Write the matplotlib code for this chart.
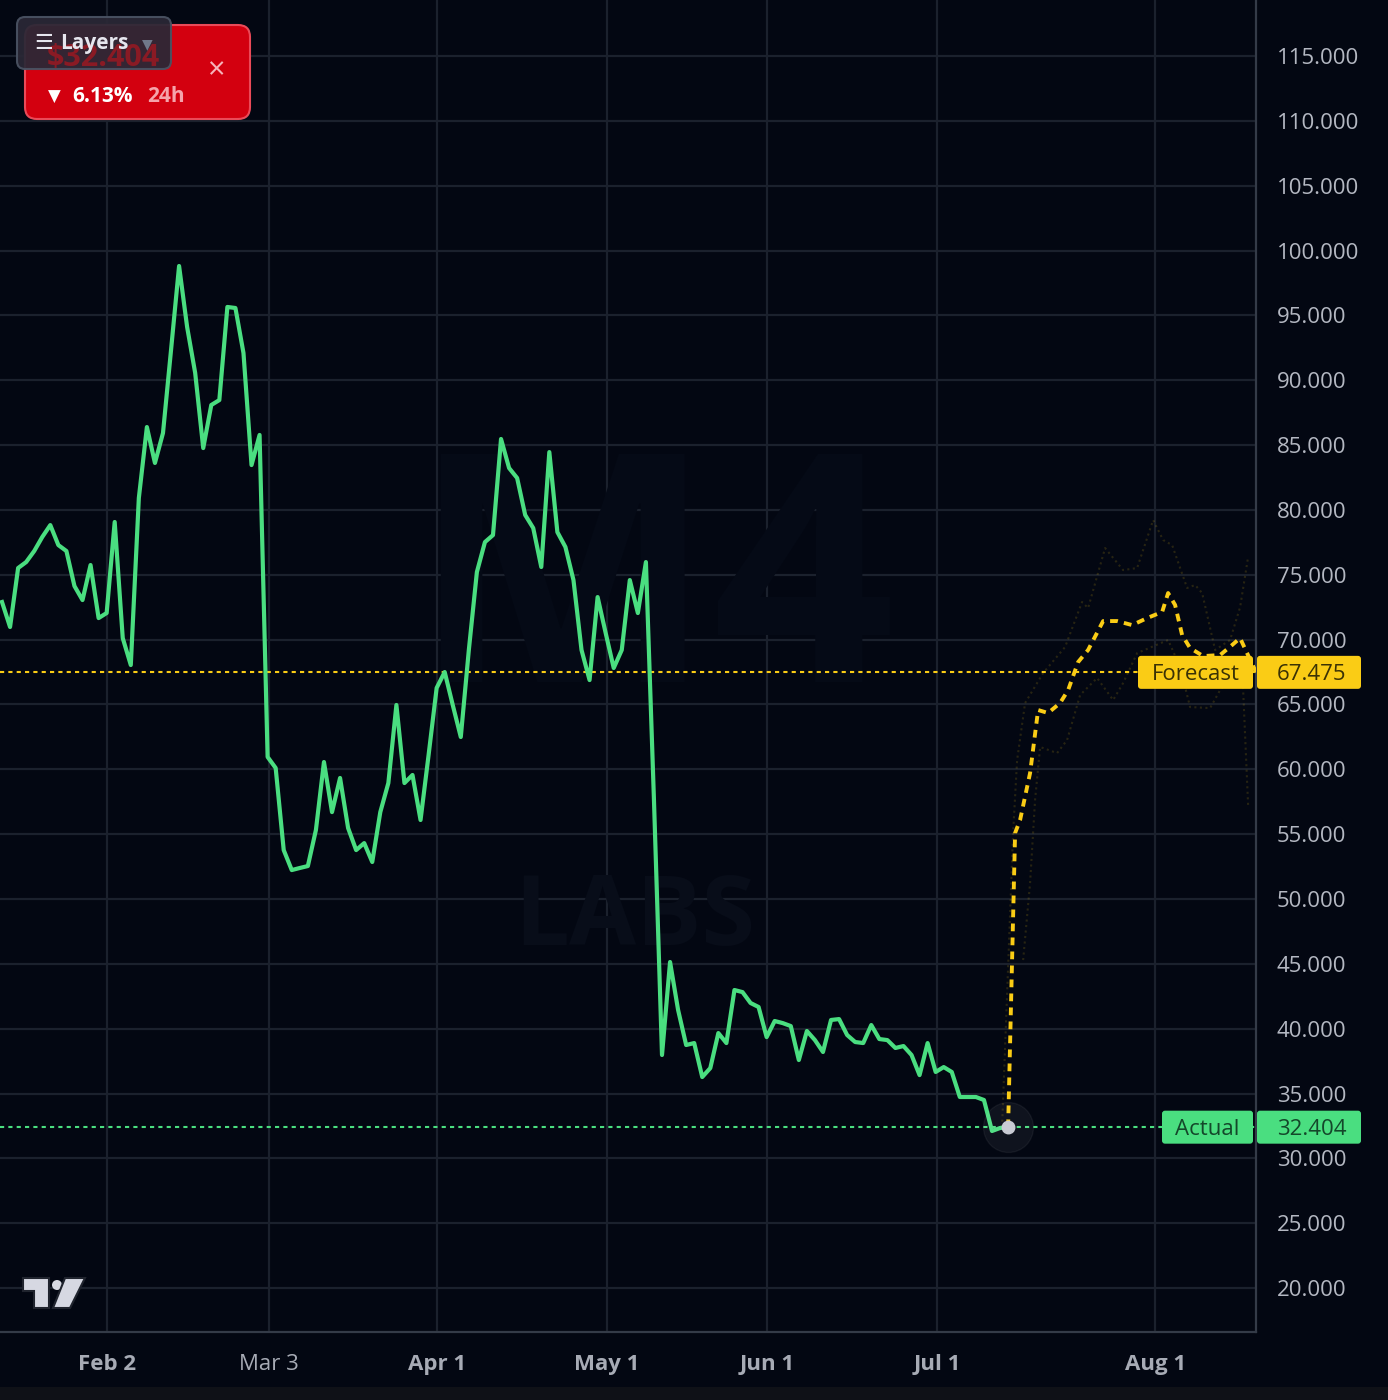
import numpy as np
import matplotlib.pyplot as plt
from matplotlib.patches import FancyBboxPatch, Circle, Polygon, Rectangle
from matplotlib.transforms import blended_transform_factory

plt.rcParams['font.family'] = ['Open Sans', 'DejaVu Sans']

# actual price, one value per bar
actual = [72.90, 70.97, 75.52, 75.98, 76.83, 77.91, 78.83, 77.29, 76.83, 74.13,
          73.05, 75.75, 71.66, 72.05, 79.07, 70.12, 68.04, 80.92, 86.39, 83.62,
          85.93, 92.33, 98.81, 94.10, 90.56, 84.77, 88.09, 88.47, 95.65, 95.57,
          92.10, 83.46, 85.78, 60.95, 60.10, 53.77, 52.23, 52.39, 52.54, 55.32,
          60.56, 56.70, 59.33, 55.47, 53.77, 54.31, 52.85, 56.70, 58.94, 64.96,
          58.94, 59.56, 56.09, 61.10, 66.27, 67.50, 64.96, 62.49, 69.20, 75.21,
          77.52, 78.06, 85.47, 83.23, 82.46, 79.61, 78.60, 75.60, 84.46, 78.29,
          77.14, 74.59, 69.20, 66.88, 73.28, 70.51, 67.81, 69.20, 74.59, 72.05,
          75.98, 57.63, 37.97, 45.14, 41.44, 38.74, 38.89, 36.27, 36.96, 39.66,
          38.89, 42.98, 42.82, 41.98, 41.67, 39.35, 40.59, 40.43, 40.20, 37.58,
          39.82, 39.12, 38.20, 40.67, 40.74, 39.51, 38.97, 38.89, 40.28, 39.20,
          39.12, 38.51, 38.66, 37.97, 36.42, 38.89, 36.66, 37.04, 36.66, 34.73,
          34.73, 34.73, 34.50, 32.11, 32.34, 32.404]
actual_last = 32.404
forecast_last = 67.475

# forecast (bar positions continue after the last actual bar)
forecast_x = [125.0, 125.87, 126.49, 127.73, 128.73, 129.97, 131.46, 132.46, 133.70,
              134.94, 136.81, 138.55, 140.41, 142.27, 144.14, 144.88, 145.75, 146.62,
              147.61, 149.23, 151.34, 152.83, 153.82, 154.69, 155.81]
forecast_y = [32.40, 55.09, 56.09, 59.71, 64.57, 64.34, 65.11, 66.11, 68.27,
              69.20, 71.43, 71.43, 71.12, 71.66, 72.13, 73.59, 72.67, 70.35,
              69.35, 68.73, 68.81, 69.58, 70.12, 68.96, 67.475]

upper_x = [124.25, 124.88, 125.62, 126.12, 127.11, 129.35, 132.08, 134.19, 134.94,
           137.05, 139.29, 141.03, 143.02, 144.26, 145.38, 147.24, 148.24, 149.11,
           150.72, 152.58, 153.83, 154.82]
upper_y = [32.40, 42.75, 55.09, 60.71, 65.11, 67.42, 69.43, 72.90, 72.43,
           77.06, 75.36, 75.52, 79.22, 77.68, 77.29, 73.98, 74.21, 73.59,
           69.20, 69.97, 72.51, 76.37]
lower_x = [126.87, 127.73, 128.35, 128.98, 131.09, 132.33, 133.95, 136.06, 138.05,
           139.29, 141.03, 144.88, 146.37, 147.61, 150.10, 151.34, 154.08, 154.82]
lower_y = [45.29, 51.23, 57.63, 61.72, 61.25, 62.26, 65.73, 67.04, 65.34,
           66.65, 68.96, 69.97, 67.89, 64.80, 64.72, 66.11, 67.89, 57.24]

tick_pos = [13.05, 33.18, 54.05, 75.17, 95.05, 116.18, 143.27]
tick_labels = ['Feb 2', 'Mar 3', 'Apr 1', 'May 1', 'Jun 1', 'Jul 1', 'Aug 1']
tick_weights = ['bold', 'normal', 'bold', 'bold', 'bold', 'bold', 'bold']
y_ticks = np.arange(20, 116, 5)

BG = '#030712'
GRID = '#1b212d'
GREEN = '#4ade80'
YELLOW = '#facc15'
LABEL = '#b4b8c2'

fig = plt.figure(figsize=(13.88, 14), dpi=100, facecolor=BG)
ax = fig.add_axes([0, 68 / 1400, 1256 / 1388, 1332 / 1400])
ax.set_facecolor(BG)
ax.set_xlim(-0.25, 155.8)
ax.set_ylim(16.61, 119.32)

ax.set_xticks(tick_pos)
ax.set_xticklabels(tick_labels)
for lab, w in zip(ax.get_xticklabels(), tick_weights):
    lab.set_fontweight(w)
    if w == 'normal':
        lab.set_color('#8d919b')
ax.set_yticks(y_ticks)
ax.set_yticklabels([f'{v:.3f}' for v in y_ticks])
ax.yaxis.tick_right()
ax.tick_params(axis='y', length=0, pad=15, labelsize=16, labelcolor=LABEL)
ax.tick_params(axis='x', length=0, pad=16, labelsize=16, labelcolor='#a7abb5')
ax.grid(True, color=GRID, lw=1.6)
ax.set_axisbelow(True)
for s in ['top', 'left']:
    ax.spines[s].set_visible(False)
for s in ['right', 'bottom']:
    ax.spines[s].set_color('#343b48')
    ax.spines[s].set_linewidth(1.6)

# faint watermark
ax.text(0.505, 0.31, 'LABS', transform=ax.transAxes, ha='center', va='center',
        fontsize=70, color='#080d19', fontweight='bold', zorder=1)
ax.text(0.52, 0.55, 'M4', transform=ax.transAxes, ha='center', va='center',
        fontsize=230, color='#050a16', fontweight='bold', zorder=1)

# price reference lines
ax.axhline(forecast_last, color=YELLOW, lw=1.5, ls=(0, (2, 2)), zorder=2)
ax.axhline(actual_last, color=GREEN, lw=1.5, ls=(0, (2, 2)), zorder=2)

# forecast band
ax.plot(upper_x, upper_y, color=YELLOW, alpha=0.15, lw=1.5, ls=':', zorder=3)
ax.plot(lower_x, lower_y, color=YELLOW, alpha=0.15, lw=1.5, ls=':', zorder=3)

ax.plot(np.arange(len(actual)), actual, color=GREEN, lw=3.0, zorder=4,
        solid_joinstyle='round')
ax.plot(forecast_x, forecast_y, color=YELLOW, lw=2.8, ls=(0, (2, 1.6)), zorder=5)

ax.plot(len(actual) - 1, actual_last, 'o', ms=36, color='white', alpha=0.05, zorder=5)
ax.plot(len(actual) - 1, actual_last, 'o', ms=9, color='#c9cbd4', zorder=6)

# price tags on the right
trans = blended_transform_factory(ax.transAxes, ax.transData)
px_x = 1 / 1256
px_y = (119.32 - 16.61) / 1332
tag_h = 33 * px_y


def price_tag(value, name, left_px, fc, tc):
    name_box = FancyBboxPatch((left_px * px_x, value - tag_h / 2),
                              (1253 - left_px) * px_x, tag_h,
                              boxstyle='round,pad=0,rounding_size=%f' % (3 * px_x),
                              mutation_aspect=px_y / px_x, fc=fc, ec='none',
                              transform=trans, clip_on=False, zorder=8)
    ax.add_patch(name_box)
    val_box = FancyBboxPatch((1257 * px_x, value - tag_h / 2), 104 * px_x, tag_h,
                             boxstyle='round,pad=0,rounding_size=%f' % (3 * px_x),
                             mutation_aspect=px_y / px_x, fc=fc, ec='none',
                             transform=trans, clip_on=False, zorder=8)
    ax.add_patch(val_box)
    ax.text((left_px + 1253) / 2 * px_x, value - 0.2, name, transform=trans, ha='center',
            va='center', fontsize=16, color=tc, zorder=9, clip_on=False)
    ax.text(1277 * px_x, value - 0.2, f'{value:.3f}', transform=trans, ha='left',
            va='center', fontsize=16, color=tc, zorder=9, clip_on=False)


price_tag(forecast_last, 'Forecast', 1138, YELLOW, '#3a3205')
price_tag(actual_last, 'Actual', 1162, GREEN, '#14472a')

# overlay in pixel units for the chart widgets
ov = fig.add_axes([0, 0, 1, 1], zorder=10)
ov.set_xlim(0, 1388)
ov.set_ylim(1400, 0)
ov.axis('off')
ov.patch.set_alpha(0)

ov.add_patch(Rectangle((0, 1387), 1388, 13, fc='#0f1117', ec='none'))

# 24h badge
ov.add_patch(FancyBboxPatch((25, 25), 225, 94, boxstyle='round,pad=0,rounding_size=12',
                            fc='#d3000f', ec='#ea4a58', lw=1.5))
ov.text(47, 58, '$32.404', fontsize=22, color='#8a1a24', va='center', ha='left',
        fontweight='bold')
ov.text(48, 97, '\u25bc', fontsize=12, color='white', va='center', ha='left',
        family=['DejaVu Sans'])
ov.text(72, 97, '6.13%', fontsize=15, color='white', va='center', ha='left',
        fontweight='bold')
ov.text(147, 97, '24h', fontsize=15, color='#f5a3ab', va='center', ha='left',
        fontweight='bold')
ov.text(216, 71, '\u00d7', fontsize=22, color='#f6b4ba', va='center', ha='center')

# layers button (sits over the badge price)
ov.add_patch(FancyBboxPatch((17, 17), 154, 52, boxstyle='round,pad=0,rounding_size=8',
                            fc='#2a2836', ec='#4a5262', lw=1.5, alpha=0.94))
ov.text(34, 43, '\u2630', fontsize=15, color='#e6e6ee', va='center', ha='left',
        family=['DejaVu Sans'])
ov.text(60, 43, 'Layers', fontsize=15, color='#e6e6ee', va='center', ha='left',
        fontweight='bold')
ov.text(147, 44, '\u25bc', fontsize=10, color='#70788a', va='center', ha='center',
        family=['DejaVu Sans'])

# tradingview logo
ov.add_patch(Polygon([(23, 1278), (49, 1278), (49, 1308), (34, 1308), (34, 1291), (23, 1291)],
                     closed=True, fc='#d6d8e2', ec='#20242e', lw=1.5))
ov.add_patch(Circle((57, 1285), 5, fc='#d6d8e2', ec='none'))
ov.add_patch(Polygon([(65, 1278), (85, 1278), (70, 1308), (53, 1308)],
                     closed=True, fc='#d6d8e2', ec='#20242e', lw=1.5))

fig.savefig('out.png', dpi=100, facecolor=BG)
